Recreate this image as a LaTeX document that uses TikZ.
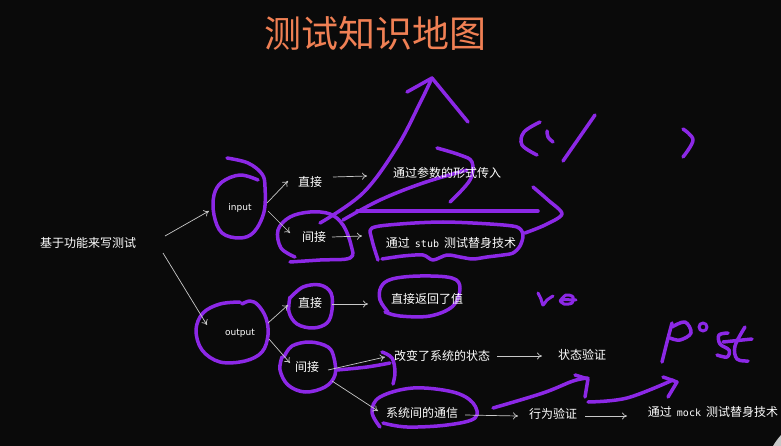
\documentclass[tikz,border=0pt]{standalone}
\usepackage{fontspec}
\setmainfont{Noto Sans CJK SC}
\newfontfamily\monof{DejaVu Sans Mono}
\newfontfamily\handf{DejaVu Sans}
\usetikzlibrary{arrows.meta}
\definecolor{bgc}{RGB}{10,10,10}
\definecolor{pen}{RGB}{140,40,230}
\definecolor{ttl}{RGB}{240,128,84}
\definecolor{arrc}{RGB}{200,200,200}
\newcommand{\latw}[1]{\hspace{5pt}{\monof\fontsize{10}{12}\selectfont #1}\hspace{5pt}}
\begin{document}
\begin{tikzpicture}[x=1pt,y=-1pt,
  txt/.style={text=white,font=\fontsize{12}{14}\selectfont,inner sep=0pt},
  lat/.style={text=white,font=\handf\fontsize{9}{10}\selectfont,inner sep=0pt},
  link/.style={draw=arrc,line width=0.7pt,-{To[length=5pt,width=7pt]}},
  ink/.style={draw=pen,line width=3.5pt,line cap=round,line join=round},
  inkthin/.style={draw=pen,line width=3pt,line cap=round,line join=round}]
\fill[bgc] (0,0) rectangle (781,446);
\useasboundingbox (0,0) rectangle (781,446);

% ---------- purple hand-drawn ink ----------
% input circle with tail
\draw[ink] plot[smooth,tension=0.6] coordinates {(227,158) (248,163) (262,174) (265,187) (264,212) (254,232) (240,238) (222,233) (214,215) (214,195) (222,182) (240,175) (258,180)};
% top indirect circle
\draw[ink] plot[smooth,tension=0.6] coordinates {(290,262) (320,260) (350,258) (351,245) (343,225) (330,214) (310,212) (290,217) (278,230) (281,248) (295,257)};
% big up arrow
\draw[ink] plot[smooth,tension=0.6] coordinates {(320,223) (363,193) (397,147) (420,103) (432,78)};
\draw[ink] (407,92) -- (432,78) -- (468,122);
% second arrow
\draw[ink] plot[smooth,tension=0.6] coordinates {(343,220) (380,200) (423,183) (467,170)};
\draw[ink] plot[smooth,tension=0.6] coordinates {(437,148) (460,155) (472,162) (470,180) (450,202)};
% horizontal arrow
\draw[ink] (357,211) -- (538,211);
\draw[ink] plot[smooth,tension=0.5] coordinates {(533,187) (548,200) (562,214) (545,225) (525,233)};
% stub box
\draw[ink] plot[smooth,tension=0.5] coordinates {(378,260) (372,240) (372,228) (400,224) (443,222) (490,224) (517,227) (523,235) (520,246) (513,253) (503,255) (487,257) (473,259) (460,257) (447,255) (433,260) (423,255) (403,256) (382,259)};
% ( \ /  )
\draw[ink] plot[smooth,tension=0.6] coordinates {(540,122) (524,132) (522,145) (537,155)};
\draw[ink] plot[smooth,tension=0.6] coordinates {(547,131) (548,137) (553,142)};
\draw[ink] (595,115) -- (563,161);
\draw[ink] plot[smooth,tension=0.6] coordinates {(683,129) (693,140) (683,157)};
% output circle
\draw[ink] plot[smooth,tension=0.6] coordinates {(242,304) (250,301) (258,305) (266,318) (268,335) (262,352) (245,361) (220,362) (202,350) (196,330) (203,313) (220,304) (240,302)};
% bottom direct circle
\draw[ink] plot[smooth,tension=0.6] coordinates {(290,298) (303,287) (320,285) (331,293) (332,310) (327,323) (313,328) (297,324) (289,312) (290,297)};
% bottom indirect circle
\draw[ink] plot[smooth,tension=0.6] coordinates {(284,357) (292,346) (310,342) (328,347) (334,358) (335,375) (325,387) (305,392) (288,385) (280,370) (282,357)};
\draw[ink] plot[smooth,tension=0.6] coordinates {(337,370) (367,367) (390,363)};
\draw[ink] plot[smooth,tension=0.6] coordinates {(382,352) (392,358) (395,372) (393,384)};
% return value oval
\draw[ink] plot[smooth,tension=0.6] coordinates {(388,312) (380,300) (381,287) (392,279) (420,276) (452,278) (460,288) (453,306) (430,316) (400,316) (385,312)};
% communication oval
\draw[ink] plot[smooth,tension=0.6] coordinates {(380,427) (372,412) (380,397) (413,388) (453,392) (473,403) (475,418) (447,425) (407,427) (383,423)};
% bottom arrows
\draw[ink] plot[smooth,tension=0.6] coordinates {(493,408) (543,393) (573,381) (588,378)};
\draw[ink] (575,375) -- (588,379) -- (585,397);
\draw[ink] plot[smooth,tension=0.6] coordinates {(588,402) (627,398) (673,380)};
\draw[ink] (663,377) -- (677,382) -- (668,397);
% ro
\draw[inkthin] plot[smooth,tension=0.4] coordinates {(538,293) (541,299) (543,305) (547,300) (553,296)};
\draw[inkthin] plot[smooth,tension=0.6] coordinates {(560,301) (566,295) (573,297) (572,303) (564,304) (561,300) (576,300)};
% post
\draw[ink] plot[smooth,tension=0.5] coordinates {(672,323) (667,342) (662,362)};
\draw[ink] plot[smooth,tension=0.6] coordinates {(672,327) (685,322) (691,333) (680,340) (670,338)};
\draw[inkthin] (703,327) circle[radius=4];
\draw[ink] plot[smooth,tension=0.6] coordinates {(728,333) (719,335) (720,344) (729,350) (727,357) (717,355)};
\draw[ink] plot[smooth,tension=0.6] coordinates {(745,327) (735,346) (737,359) (748,361)};
\draw[ink] (723,342) -- (752,339);
% corner
\fill[arrc] (773,446) .. controls (776,441) .. (781,435) -- (781,446) -- cycle;

% ---------- text nodes ----------
\node[text=ttl,font=\fontsize{37}{40}\selectfont,inner sep=0pt] (title) at (375,33) {测试知识地图};
\node[txt] (base) at (88,243) {基于功能来写测试};
\node[lat] (input) at (240,208) {input};
\node[txt] (d1) at (310,182) {直接};
\node[txt] (j1) at (314,237) {间接};
\node[txt] (p1) at (447,173) {通过参数的形式传入};
\node[txt] (stub) at (451,243) {通过\latw{stub}测试替身技术};
\node[lat] (output) at (240,333) {output};
\node[txt] (d2) at (310,303) {直接};
\node[txt] (j2) at (307,367) {间接};
\node[txt] (r2) at (427,299) {直接返回了值};
\node[txt] (c2) at (442,356) {改变了系统的状态};
\node[txt] (t2) at (422,413) {系统间的通信};
\node[txt] (sv) at (582,355) {状态验证};
\node[txt] (bv) at (553,414) {行为验证};
\node[txt] (mk) at (713,412) {通过\latw{mock}测试替身技术};

% ---------- connectors ----------
\draw[link] ([shift={(77,-7)}]base.center) -- ([shift={(-31,3)}]input.center);
\draw[link] ([shift={(75,10)}]base.center) -- ([shift={(-33,-8)}]output.center);
\draw[link] ([shift={(27,-5)}]input.center) -- ([shift={(-22,-1)}]d1.center);
\draw[link] ([shift={(28,3)}]input.center) -- ([shift={(-24,-4)}]j1.center);
\draw[link] ([shift={(23,-5)}]d1.center) -- ([shift={(-80,3)}]p1.center);
\draw[link] ([shift={(18,0)}]j1.center) -- ([shift={(-89,-7)}]stub.center);
\draw[link] ([shift={(28,-10)}]output.center) -- ([shift={(-22,2)}]d2.center);
\draw[link] ([shift={(29,6)}]output.center) -- ([shift={(-17,-4)}]j2.center);
\draw[link] ([shift={(22,1)}]d2.center) -- ([shift={(-59,5)}]r2.center);
\draw[link] ([shift={(21,3)}]j2.center) -- ([shift={(-57,1)}]c2.center);
\draw[link] ([shift={(25,14)}]j2.center) -- ([shift={(-44,-2)}]t2.center);
\draw[link] ([shift={(55,0)}]c2.center) -- ([shift={(-40,1)}]sv.center);
\draw[link] ([shift={(43,2)}]t2.center) -- ([shift={(-35,2)}]bv.center);
\draw[link] ([shift={(32,2)}]bv.center) -- ([shift={(-86,4)}]mk.center);
\end{tikzpicture}
\end{document}
